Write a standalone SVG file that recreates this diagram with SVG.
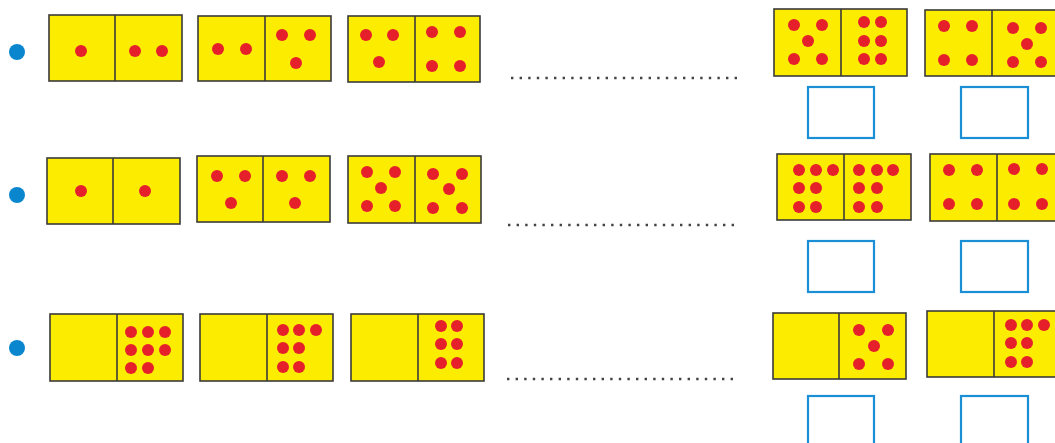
<svg xmlns="http://www.w3.org/2000/svg" width="1055" height="443" viewBox="0 0 1055 443">
<style>
.d{fill:#fcec00;stroke:#3a3a3a;stroke-width:1.6}
.dv{stroke:#3a3a3a;stroke-width:1.6}
.p{fill:#e6202a}
.b{fill:#0a86cf}
.ans{fill:#fff;stroke:#1b8fd6;stroke-width:2.2}
.dots{stroke:#444;stroke-width:2.4;stroke-dasharray:2.4 6.2;fill:none}
</style>
<rect width="1055" height="443" fill="#fff"/>
<g id="bullets">
<circle class="b" cx="17" cy="52" r="8"/>
<circle class="b" cx="17" cy="195" r="8"/>
<circle class="b" cx="17" cy="348" r="8"/>
</g>
<g id="dotlines">
<line class="dots" x1="511" y1="78" x2="738" y2="78"/>
<line class="dots" x1="508" y1="225" x2="735" y2="225"/>
<line class="dots" x1="507" y1="379" x2="734" y2="379"/>
</g>
<!-- Row 1 -->
<g id="r1d1">
<rect class="d" x="49" y="15" width="133" height="66"/><line class="dv" x1="115" y1="15" x2="115" y2="81"/>
<circle class="p" cx="81" cy="51" r="6"/>
<circle class="p" cx="135" cy="51" r="6"/><circle class="p" cx="162" cy="51" r="6"/>
</g>
<g id="r1d2">
<rect class="d" x="198" y="16" width="133" height="65"/><line class="dv" x1="265" y1="16" x2="265" y2="81"/>
<circle class="p" cx="218" cy="49" r="6"/><circle class="p" cx="246" cy="49" r="6"/>
<circle class="p" cx="282" cy="35" r="6"/><circle class="p" cx="310" cy="35" r="6"/><circle class="p" cx="296" cy="63" r="6"/>
</g>
<g id="r1d3">
<rect class="d" x="348" y="16" width="132" height="66"/><line class="dv" x1="415" y1="16" x2="415" y2="82"/>
<circle class="p" cx="366" cy="35" r="6"/><circle class="p" cx="393" cy="35" r="6"/><circle class="p" cx="379" cy="62" r="6"/>
<circle class="p" cx="432" cy="32" r="6"/><circle class="p" cx="460" cy="32" r="6"/><circle class="p" cx="432" cy="66" r="6"/><circle class="p" cx="460" cy="66" r="6"/>
</g>
<g id="r1d4">
<rect class="d" x="774" y="9" width="133" height="67"/><line class="dv" x1="841" y1="9" x2="841" y2="76"/>
<circle class="p" cx="794" cy="25" r="6"/><circle class="p" cx="822" cy="25" r="6"/><circle class="p" cx="808" cy="41" r="6"/><circle class="p" cx="794" cy="59" r="6"/><circle class="p" cx="822" cy="59" r="6"/>
<circle class="p" cx="864" cy="22" r="6"/><circle class="p" cx="881" cy="22" r="6"/><circle class="p" cx="864" cy="41" r="6"/><circle class="p" cx="881" cy="41" r="6"/><circle class="p" cx="864" cy="59" r="6"/><circle class="p" cx="881" cy="59" r="6"/>
</g>
<g id="r1d5">
<rect class="d" x="925" y="10" width="134" height="66"/><line class="dv" x1="992" y1="10" x2="992" y2="76"/>
<circle class="p" cx="944" cy="26" r="6"/><circle class="p" cx="972" cy="26" r="6"/><circle class="p" cx="944" cy="60" r="6"/><circle class="p" cx="972" cy="60" r="6"/>
<circle class="p" cx="1013" cy="28" r="6"/><circle class="p" cx="1041" cy="28" r="6"/><circle class="p" cx="1027" cy="44" r="6"/><circle class="p" cx="1013" cy="62" r="6"/><circle class="p" cx="1041" cy="62" r="6"/>
</g>
<!-- Row 2 -->
<g id="r2d1">
<rect class="d" x="47" y="158" width="133" height="66"/><line class="dv" x1="113" y1="158" x2="113" y2="224"/>
<circle class="p" cx="81" cy="191" r="6"/><circle class="p" cx="145" cy="191" r="6"/>
</g>
<g id="r2d2">
<rect class="d" x="197" y="156" width="133" height="66"/><line class="dv" x1="263" y1="156" x2="263" y2="222"/>
<circle class="p" cx="217" cy="176" r="6"/><circle class="p" cx="245" cy="176" r="6"/><circle class="p" cx="231" cy="203" r="6"/>
<circle class="p" cx="282" cy="176" r="6"/><circle class="p" cx="310" cy="176" r="6"/><circle class="p" cx="295" cy="203" r="6"/>
</g>
<g id="r2d3">
<rect class="d" x="348" y="156" width="133" height="67"/><line class="dv" x1="415" y1="156" x2="415" y2="223"/>
<circle class="p" cx="367" cy="172" r="6"/><circle class="p" cx="395" cy="172" r="6"/><circle class="p" cx="381" cy="188" r="6"/><circle class="p" cx="367" cy="206" r="6"/><circle class="p" cx="395" cy="206" r="6"/>
<circle class="p" cx="433" cy="174" r="6"/><circle class="p" cx="462" cy="174" r="6"/><circle class="p" cx="449" cy="189" r="6"/><circle class="p" cx="433" cy="208" r="6"/><circle class="p" cx="462" cy="208" r="6"/>
</g>
<g id="r2d4">
<rect class="d" x="777" y="154" width="134" height="66"/><line class="dv" x1="844" y1="154" x2="844" y2="220"/>
<circle class="p" cx="799" cy="170" r="6"/><circle class="p" cx="816" cy="170" r="6"/><circle class="p" cx="833" cy="170" r="6"/><circle class="p" cx="799" cy="188" r="6"/><circle class="p" cx="816" cy="188" r="6"/><circle class="p" cx="799" cy="207" r="6"/><circle class="p" cx="816" cy="207" r="6"/>
<circle class="p" cx="859" cy="170" r="6"/><circle class="p" cx="877" cy="170" r="6"/><circle class="p" cx="893" cy="170" r="6"/><circle class="p" cx="859" cy="188" r="6"/><circle class="p" cx="877" cy="188" r="6"/><circle class="p" cx="859" cy="207" r="6"/><circle class="p" cx="877" cy="207" r="6"/>
</g>
<g id="r2d5">
<rect class="d" x="930" y="154" width="134" height="67"/><line class="dv" x1="997" y1="154" x2="997" y2="221"/>
<circle class="p" cx="949" cy="170" r="6"/><circle class="p" cx="977" cy="170" r="6"/><circle class="p" cx="949" cy="204" r="6"/><circle class="p" cx="977" cy="204" r="6"/>
<circle class="p" cx="1014" cy="169" r="6"/><circle class="p" cx="1042" cy="169" r="6"/><circle class="p" cx="1014" cy="204" r="6"/><circle class="p" cx="1042" cy="204" r="6"/>
</g>
<!-- Row 3 -->
<g id="r3d1">
<rect class="d" x="50" y="314" width="133" height="67"/><line class="dv" x1="117" y1="314" x2="117" y2="381"/>
<circle class="p" cx="131" cy="332" r="6"/><circle class="p" cx="148" cy="332" r="6"/><circle class="p" cx="165" cy="332" r="6"/><circle class="p" cx="131" cy="350" r="6"/><circle class="p" cx="148" cy="350" r="6"/><circle class="p" cx="165" cy="350" r="6"/><circle class="p" cx="131" cy="368" r="6"/><circle class="p" cx="148" cy="368" r="6"/>
</g>
<g id="r3d2">
<rect class="d" x="200" y="314" width="133" height="67"/><line class="dv" x1="267" y1="314" x2="267" y2="381"/>
<circle class="p" cx="283" cy="330" r="6"/><circle class="p" cx="299" cy="330" r="6"/><circle class="p" cx="316" cy="330" r="6"/><circle class="p" cx="283" cy="348" r="6"/><circle class="p" cx="299" cy="348" r="6"/><circle class="p" cx="283" cy="367" r="6"/><circle class="p" cx="299" cy="367" r="6"/>
</g>
<g id="r3d3">
<rect class="d" x="351" y="314" width="133" height="67"/><line class="dv" x1="418" y1="314" x2="418" y2="381"/>
<circle class="p" cx="441" cy="326" r="6"/><circle class="p" cx="457" cy="326" r="6"/><circle class="p" cx="441" cy="344" r="6"/><circle class="p" cx="457" cy="344" r="6"/><circle class="p" cx="441" cy="363" r="6"/><circle class="p" cx="457" cy="363" r="6"/>
</g>
<g id="r3d4">
<rect class="d" x="773" y="313" width="133" height="66"/><line class="dv" x1="839" y1="313" x2="839" y2="379"/>
<circle class="p" cx="859" cy="330" r="6"/><circle class="p" cx="888" cy="330" r="6"/><circle class="p" cx="874" cy="346" r="6"/><circle class="p" cx="859" cy="364" r="6"/><circle class="p" cx="888" cy="364" r="6"/>
</g>
<g id="r3d5">
<rect class="d" x="927" y="311" width="134" height="66"/><line class="dv" x1="994" y1="311" x2="994" y2="377"/>
<circle class="p" cx="1011" cy="325" r="6"/><circle class="p" cx="1027" cy="325" r="6"/><circle class="p" cx="1044" cy="325" r="6"/><circle class="p" cx="1011" cy="343" r="6"/><circle class="p" cx="1027" cy="343" r="6"/><circle class="p" cx="1011" cy="362" r="6"/><circle class="p" cx="1027" cy="362" r="6"/>
</g>
<g id="answer-boxes">
<rect class="ans" x="808" y="87" width="66" height="51"/>
<rect class="ans" x="961" y="87" width="67" height="51"/>
<rect class="ans" x="808" y="241" width="66" height="51"/>
<rect class="ans" x="961" y="241" width="67" height="51"/>
<rect class="ans" x="808" y="396" width="66" height="52"/>
<rect class="ans" x="961" y="396" width="67" height="52"/>
</g>
</svg>
